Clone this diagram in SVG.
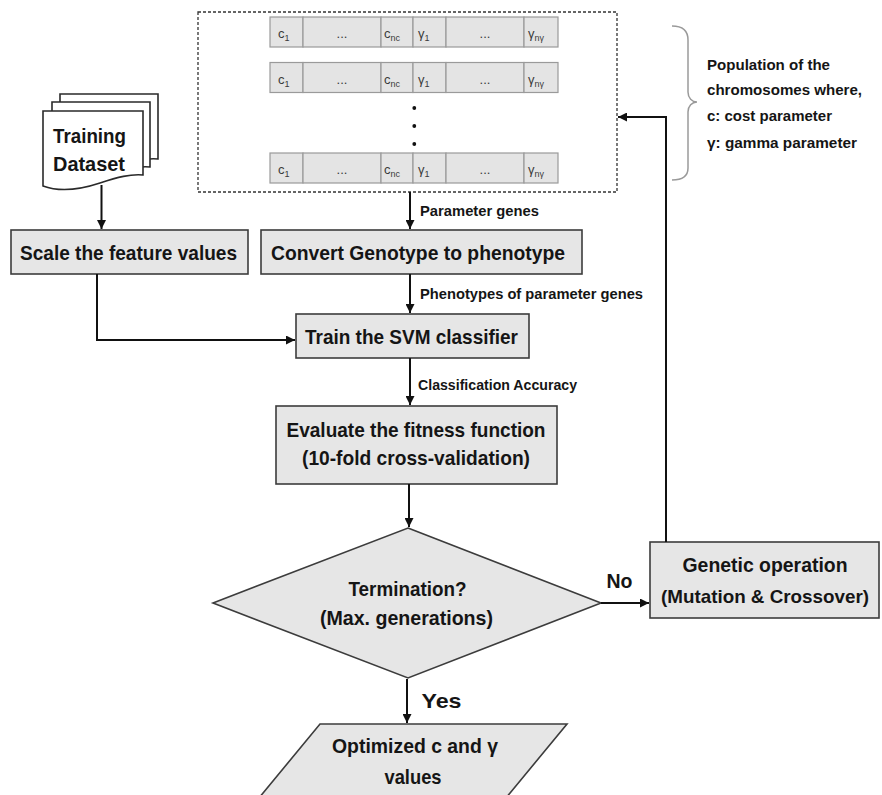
<svg xmlns="http://www.w3.org/2000/svg" width="882" height="795" viewBox="0 0 882 795">
  <defs>
    <marker id="ah" viewBox="0 0 10 10" refX="10" refY="5" markerWidth="4.5" markerHeight="4.5" orient="auto" markerUnits="strokeWidth">
      <path d="M0,0 L10,5 L0,10 z" fill="#111"/>
    </marker>
    <style>
      .box { fill: #e6e6e6; stroke: #3c3c3c; stroke-width: 1.6; }
      .doc { fill: #ffffff; stroke: #2a2a2a; stroke-width: 1.6; }
      .cell { fill: #e4e4e4; stroke: #9a9a9a; stroke-width: 1.2; }
      .main { font-family: "Liberation Sans", Arial, sans-serif; font-weight: bold; font-size: 21px; fill: #151515; text-anchor: middle; }
      .lbl { font-family: "Liberation Sans", Arial, sans-serif; font-weight: bold; font-size: 15.5px; fill: #151515; }
      .gene { font-family: "Liberation Sans", Arial, sans-serif; font-size: 13px; fill: #3a3a3a; }
      .sub { font-size: 9px; }
      .wire { fill: none; stroke: #111; stroke-width: 2; marker-end: url(#ah); }
    </style>
  </defs>

  <!-- chromosome population -->
  <g id="population">
    <rect x="198" y="12" width="419" height="180" fill="none" stroke="#333" stroke-width="1.3" stroke-dasharray="3 2"/>
    <g id="chromosome-1" transform="translate(0,17)">
      <rect class="cell" x="270" y="0" width="33" height="30"/>
      <rect class="cell" x="303" y="0" width="78" height="30"/>
      <rect class="cell" x="381" y="0" width="32" height="30"/>
      <rect class="cell" x="413" y="0" width="33" height="30"/>
      <rect class="cell" x="446" y="0" width="78" height="30"/>
      <rect class="cell" x="524" y="0" width="34" height="30"/>
      <text class="gene" x="278" y="21">c<tspan class="sub" dy="3">1</tspan></text>
      <text class="gene" x="342" y="21" text-anchor="middle">...</text>
      <text class="gene" x="384" y="21">c<tspan class="sub" dy="3">nc</tspan></text>
      <text class="gene" x="418" y="21">γ<tspan class="sub" dy="3">1</tspan></text>
      <text class="gene" x="485" y="21" text-anchor="middle">...</text>
      <text class="gene" x="528" y="21">γ<tspan class="sub" dy="3">nγ</tspan></text>
    </g>
    <g id="chromosome-2" transform="translate(0,62.5)">
      <rect class="cell" x="270" y="0" width="33" height="30"/>
      <rect class="cell" x="303" y="0" width="78" height="30"/>
      <rect class="cell" x="381" y="0" width="32" height="30"/>
      <rect class="cell" x="413" y="0" width="33" height="30"/>
      <rect class="cell" x="446" y="0" width="78" height="30"/>
      <rect class="cell" x="524" y="0" width="34" height="30"/>
      <text class="gene" x="278" y="21">c<tspan class="sub" dy="3">1</tspan></text>
      <text class="gene" x="342" y="21" text-anchor="middle">...</text>
      <text class="gene" x="384" y="21">c<tspan class="sub" dy="3">nc</tspan></text>
      <text class="gene" x="418" y="21">γ<tspan class="sub" dy="3">1</tspan></text>
      <text class="gene" x="485" y="21" text-anchor="middle">...</text>
      <text class="gene" x="528" y="21">γ<tspan class="sub" dy="3">nγ</tspan></text>
    </g>
    <circle cx="414.3" cy="108" r="1.9" fill="#111"/>
    <circle cx="414.3" cy="126" r="1.9" fill="#111"/>
    <circle cx="414.3" cy="144" r="1.9" fill="#111"/>
    <g id="chromosome-n" transform="translate(0,153)">
      <rect class="cell" x="270" y="0" width="33" height="30"/>
      <rect class="cell" x="303" y="0" width="78" height="30"/>
      <rect class="cell" x="381" y="0" width="32" height="30"/>
      <rect class="cell" x="413" y="0" width="33" height="30"/>
      <rect class="cell" x="446" y="0" width="78" height="30"/>
      <rect class="cell" x="524" y="0" width="34" height="30"/>
      <text class="gene" x="278" y="21">c<tspan class="sub" dy="3">1</tspan></text>
      <text class="gene" x="342" y="21" text-anchor="middle">...</text>
      <text class="gene" x="384" y="21">c<tspan class="sub" dy="3">nc</tspan></text>
      <text class="gene" x="418" y="21">γ<tspan class="sub" dy="3">1</tspan></text>
      <text class="gene" x="485" y="21" text-anchor="middle">...</text>
      <text class="gene" x="528" y="21">γ<tspan class="sub" dy="3">nγ</tspan></text>
    </g>
  </g>

  <!-- brace and legend -->
  <g id="legend">
    <path d="M672,26 C682,26 688,30 688,40 L688,92 C688,98 692,102 697,102 C692,102 688,106 688,112 L688,168 C688,176 682,180 672,180" fill="none" stroke="#9a9a9a" stroke-width="1.5"/>
    <text class="lbl" x="707" y="70" textLength="123" lengthAdjust="spacingAndGlyphs">Population of the</text>
    <text class="lbl" x="707" y="95" textLength="155" lengthAdjust="spacingAndGlyphs">chromosomes where,</text>
    <text class="lbl" x="707" y="121" textLength="125" lengthAdjust="spacingAndGlyphs">c: cost parameter</text>
    <text class="lbl" x="707" y="148" textLength="150" lengthAdjust="spacingAndGlyphs">γ: gamma parameter</text>
  </g>

  <!-- training dataset (stacked documents) -->
  <g id="training-dataset">
    <path class="doc" d="M60,94 H158 V159 C145,158 133,161 115,167 C97,173 77,177 60,170 Z"/>
    <path class="doc" d="M52,102 H150 V167 C137,166 125,169 107,175 C89,181 69,185 52,178 Z"/>
    <path class="doc" d="M43,111 H143 V175 C130,174 118,177 100,183 C82,189 62,193 43,186 Z"/>
    <text class="main" x="89.5" y="143" textLength="73" lengthAdjust="spacingAndGlyphs">Training</text>
    <text class="main" x="89" y="171" textLength="72" lengthAdjust="spacingAndGlyphs">Dataset</text>
  </g>

  <g id="scale-features">
    <rect class="box" x="11" y="230" width="237" height="44"/>
    <text class="main" x="128.5" y="260" textLength="217" lengthAdjust="spacingAndGlyphs">Scale the feature values</text>
  </g>

  <g id="convert-genotype">
    <rect class="box" x="261" y="230" width="321" height="44"/>
    <text class="main" x="418" y="260" textLength="294" lengthAdjust="spacingAndGlyphs">Convert Genotype to phenotype</text>
  </g>

  <g id="train-svm">
    <rect class="box" x="296" y="314" width="233" height="44"/>
    <text class="main" x="411.5" y="344" textLength="213" lengthAdjust="spacingAndGlyphs">Train the SVM classifier</text>
  </g>

  <g id="evaluate-fitness">
    <rect class="box" x="276" y="406" width="281" height="78"/>
    <text class="main" x="416" y="437" textLength="259" lengthAdjust="spacingAndGlyphs">Evaluate the fitness function</text>
    <text class="main" x="416" y="465" textLength="228" lengthAdjust="spacingAndGlyphs">(10-fold cross-validation)</text>
  </g>

  <g id="termination">
    <polygon class="box" points="408,528 601,603 408,678 213,603"/>
    <text class="main" x="407.5" y="596" textLength="118" lengthAdjust="spacingAndGlyphs">Termination?</text>
    <text class="main" x="406.5" y="625" textLength="173" lengthAdjust="spacingAndGlyphs">(Max. generations)</text>
  </g>

  <g id="genetic-operation">
    <rect class="box" x="650" y="542" width="229" height="76"/>
    <text class="main" x="765" y="572" textLength="165" lengthAdjust="spacingAndGlyphs">Genetic operation</text>
    <text class="main" x="765" y="603" style="font-size:18.5px" textLength="208" lengthAdjust="spacingAndGlyphs">(Mutation &amp; Crossover)</text>
  </g>

  <g id="optimized-output">
    <polygon class="box" points="320,724 567,724 501,804 254,804"/>
    <text class="main" x="415" y="753" textLength="166" lengthAdjust="spacingAndGlyphs">Optimized c and γ</text>
    <text class="main" x="413" y="784" textLength="57" lengthAdjust="spacingAndGlyphs">values</text>
  </g>

  <!-- connectors -->
  <g id="connectors">
    <path class="wire" d="M101.5,185 V229"/>
    <path class="wire" d="M410,192 V229"/>
    <path class="wire" d="M410,274 V313"/>
    <path class="wire" d="M97,274 V340 H295"/>
    <path class="wire" d="M410,358 V405"/>
    <path class="wire" d="M409,484 V527"/>
    <path class="wire" d="M601,603 H649" stroke-width="2.4"/>
    <path class="wire" d="M666,542 V117 H618"/>
    <path class="wire" d="M407,679 V723"/>
    <text class="lbl" x="420" y="216" textLength="119" lengthAdjust="spacingAndGlyphs">Parameter genes</text>
    <text class="lbl" x="420" y="299" textLength="223" lengthAdjust="spacingAndGlyphs">Phenotypes of parameter genes</text>
    <text class="lbl" x="418" y="390" textLength="159" lengthAdjust="spacingAndGlyphs">Classification Accuracy</text>
    <text class="main" x="619.5" y="588" textLength="26" lengthAdjust="spacingAndGlyphs">No</text>
    <text class="main" x="441.5" y="708" textLength="40" lengthAdjust="spacingAndGlyphs">Yes</text>
  </g>
</svg>
